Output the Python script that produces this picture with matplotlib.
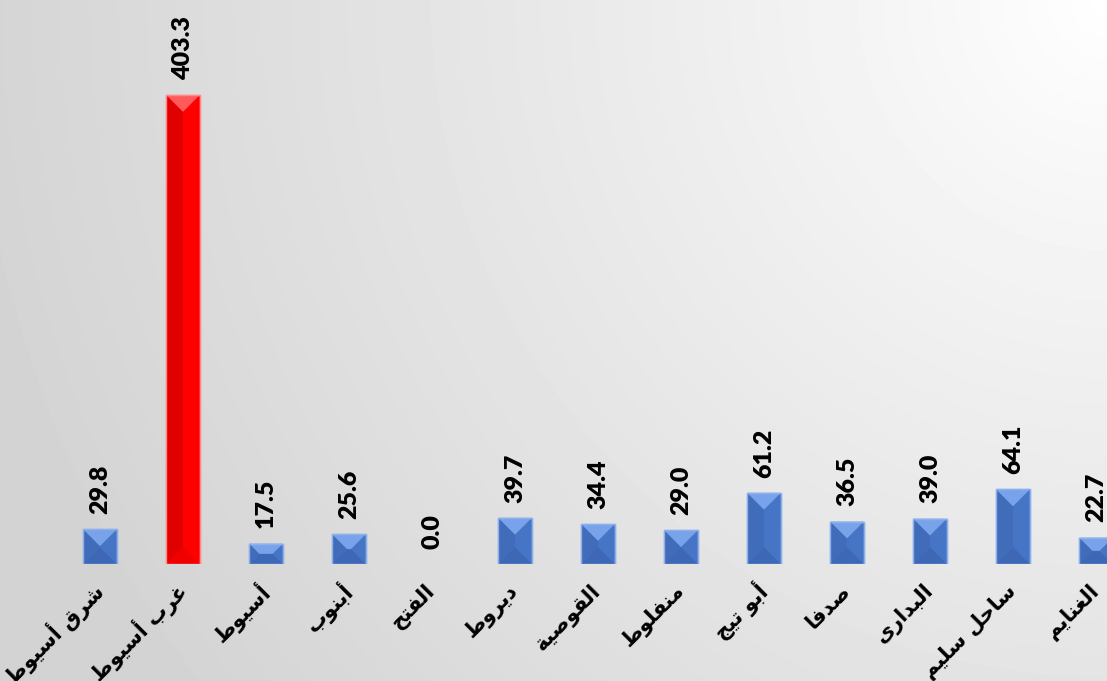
import numpy as np
import matplotlib
matplotlib.use('Agg')
import matplotlib.pyplot as plt
from matplotlib.patches import Polygon

# data
districts = ['شرق أسيوط', 'غرب أسيوط', 'أسيوط', 'أبنوب', 'الفتح', 'ديروط',
             'القوصية', 'منفلوط', 'أبو تيج', 'صدفا', 'البدارى', 'ساحل سليم',
             'الغنايم']
values = [29.8, 403.3, 17.5, 25.6, 0.0, 39.7, 34.4, 29.0, 61.2, 36.5, 39.0,
          64.1, 22.7]
highlight = 'غرب أسيوط'

# small arabic shaper (matplotlib draws glyphs left to right, unjoined)
DUAL = {'ب': 0xFE8F, 'ت': 0xFE95, 'ج': 0xFE9D, 'ح': 0xFEA1, 'س': 0xFEB1,
        'ش': 0xFEB5, 'ص': 0xFEB9, 'ط': 0xFEC1, 'غ': 0xFECD, 'ف': 0xFED1,
        'ق': 0xFED5, 'ل': 0xFEDD, 'م': 0xFEE1, 'ن': 0xFEE5, 'ي': 0xFEF1}
RIGHT = {'ا': 0xFE8D, 'أ': 0xFE83, 'د': 0xFEA9, 'ر': 0xFEAD, 'و': 0xFEED,
         'ة': 0xFE93, 'ى': 0xFEEF}


def shape(s):
    out = []
    for i, ch in enumerate(s):
        if ch not in DUAL and ch not in RIGHT:
            out.append(ch)
            continue
        prev = s[i - 1] if i > 0 else ''
        nxt = s[i + 1] if i + 1 < len(s) else ''
        join_prev = prev in DUAL
        join_next = ch in DUAL and (nxt in DUAL or nxt in RIGHT)
        base = DUAL.get(ch, RIGHT.get(ch))
        if join_prev and join_next:
            cp = base + 3
        elif join_next:
            cp = base + 2
        elif join_prev:
            cp = base + 1
        else:
            cp = base
        out.append(chr(cp))
    return ''.join(out[::-1])


fig = plt.figure(figsize=(11.07, 6.81), dpi=100)

# background gradient, light at the top right corner
bg = fig.add_axes([0, 0, 1, 1])
yy, xx = np.mgrid[0:681, 0:1107]
dist = np.sqrt((xx - 1107) ** 2 + (yy - 0) ** 2) / 1150.0
dist = np.clip(dist, 0, 1)
shade = 1.0 - 0.17 * dist ** 0.9
bg.imshow(shade, cmap='gray', vmin=0, vmax=1, aspect='auto',
          interpolation='bilinear')
bg.axis('off')

ax = fig.add_axes([0, 117 / 681, 1, 564 / 681])
ax.patch.set_alpha(0)
x = np.arange(len(districts))
width = 0.405
ax.set_xlim(-100 / 83, 1007 / 83)
ax.set_ylim(0, 485)

px_x = 83.0
px_y = 564 / 485

blue = {'face': '#4775c6', 'top': '#78a3ea', 'left': '#416cba',
        'bottom': '#3e68b6', 'edge': '#8eb0ea'}
red = {'face': '#ff0000', 'top': '#ff5a5a', 'left': '#e00000',
       'bottom': '#f00000', 'edge': '#ff8a8a'}

for xi, v, name in zip(x, values, districts):
    c = red if name == highlight else blue
    if v > 0:
        ax.bar(xi, v, width=width, color=c['face'], edgecolor=c['edge'],
               linewidth=1.0, zorder=2)
        x0, x1 = xi - width / 2, xi + width / 2
        d = min(width * px_x / 2, v * px_y / 2)
        dx, dy = d / px_x, d / px_y
        top = [(x0, v), (x1, v), (x1 - dx, v - dy), (x0 + dx, v - dy)]
        left = [(x0, 0), (x0, v), (x0 + dx, v - dy), (x0 + dx, dy)]
        bottom = [(x0, 0), (x1, 0), (x1 - dx, dy), (x0 + dx, dy)]
        for poly, col in ((left, c['left']), (bottom, c['bottom']),
                          (top, c['top'])):
            ax.add_patch(Polygon(poly, closed=True, facecolor=col,
                                 edgecolor='none', zorder=3))
        ax.bar(xi, v, width=width, color='none', edgecolor=c['edge'],
               linewidth=1.0, zorder=4)
    ax.annotate(f'{v:.1f}', (xi, v), xytext=(0, 11),
                textcoords='offset points', rotation=90, ha='center',
                va='bottom', fontsize=18, fontweight='heavy', family='Lato',
                color='black', zorder=5)

ax.set_xticks(x)
ax.set_xticklabels([shape(d) for d in districts], rotation=45, ha='right',
                   va='center', rotation_mode='anchor', fontsize=15,
                   fontweight='bold', family='DejaVu Sans')
ax.tick_params(axis='x', length=0, pad=17)
ax.set_yticks([])
for s in ax.spines.values():
    s.set_visible(False)

fig.savefig('out.png', dpi=100)
